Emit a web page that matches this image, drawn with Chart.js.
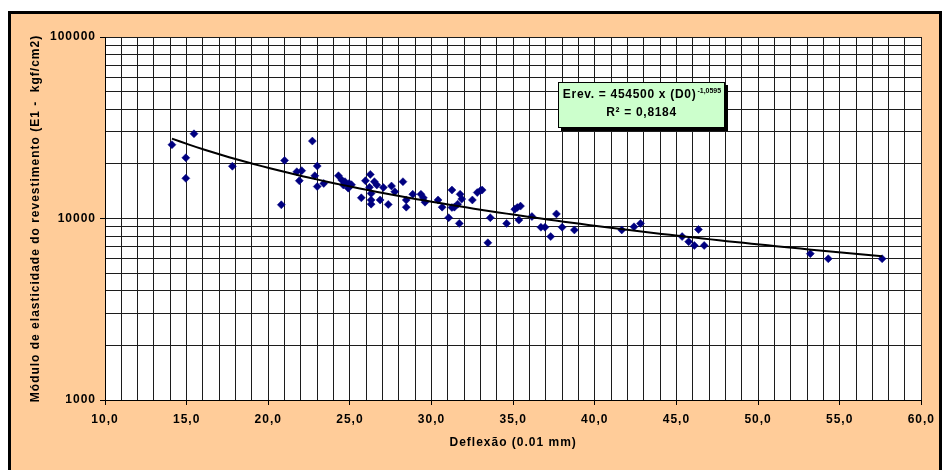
<!DOCTYPE html>
<html>
<head>
<meta charset="utf-8">
<title>Módulo de elasticidade x Deflexão</title>
<script src="https://cdn.jsdelivr.net/npm/chart.js@4.4.1/dist/chart.umd.min.js"></script>
<style>
  html, body { margin: 0; padding: 0; background: #ffffff; overflow: hidden; }
  canvas { display: block; }
</style>
</head>
<body>
<canvas id="chart" width="942" height="470" style="width:942px;height:470px"></canvas>
<script>
// Deflexão medida (0.01 mm) e módulo retroanalisado do revestimento (kgf/cm2)
const deflexao = [
  14.1, 15.45, 14.95, 14.95, 17.8, 21.0, 20.8, 22.7, 21.75, 22.05,
  21.9, 23.0, 22.85, 23.0, 23.4, 24.3, 24.5, 24.7, 24.6, 24.95,
  25.1, 24.9, 25.7, 25.95, 26.25, 26.2, 26.3, 26.5, 26.65, 26.3,
  26.3, 26.85, 27.05, 27.35, 27.55, 27.75, 28.25, 28.45, 28.45, 28.85,
  29.35, 29.5, 29.6, 30.4, 30.65, 31.05, 31.25, 31.7, 31.75, 31.85,
  31.6, 31.4, 31.25, 32.5, 32.8, 33.0, 33.1, 33.6, 33.45, 34.6,
  35.1, 35.25, 35.45, 35.35, 36.15, 36.7, 36.95, 37.3, 37.65, 38.0,
  38.75, 41.65, 42.4, 42.8, 45.35, 45.75, 46.1, 46.35, 46.7, 53.2,
  54.3, 57.6
];
const modulo = [
  25500, 29300, 21600, 16650, 19400, 20900, 11900, 26700, 18100, 18350,
  16150, 19450, 17200, 15000, 15600, 17200, 16300, 15950, 15300, 15600,
  15350, 14700, 13000, 16150, 17500, 14850, 13750, 15950, 15300, 12650,
  12000, 12650, 14800, 11950, 15100, 14050, 15950, 12650, 11550, 13600,
  13600, 13000, 12300, 12650, 11550, 10100, 14350, 9400, 13600, 12800,
  12000, 11550, 11500, 12650, 13900, 14250, 14350, 10100, 7350, 9400,
  11250, 11500, 11700, 9800, 10250, 8950, 8950, 7950, 10600, 8950,
  8650, 8650, 9000, 9400, 7950, 7450, 7100, 8700, 7100, 6400,
  6000, 6000
];

// Rótulos dos eixos
const xTickValues = [10, 15, 20, 25, 30, 35, 40, 45, 50, 55, 60];
const xTickLabels = ['10,0', '15,0', '20,0', '25,0', '30,0', '35,0', '40,0', '45,0', '50,0', '55,0', '60,0'];
const yTickValues = [1000, 10000, 100000];
const yTickLabels = ['1000', '10000', '100000'];

// Regressão potencial: Erev = a x D0^b
const trendA = 454500;
const trendB = -1.0595;
const trendAText = '454500';
const trendBText = '-1,0595';
const trendR2Text = '0,8184';

const points = deflexao.map((d, i) => ({ x: d, y: modulo[i] }));

// Curva de tendência entre a menor e a maior deflexão
const dMin = Math.min(...deflexao);
const dMax = Math.max(...deflexao);
const trend = [];
for (let d = dMin; d < dMax; d += 0.5) trend.push({ x: d, y: trendA * Math.pow(d, trendB) });
trend.push({ x: dMax, y: trendA * Math.pow(dMax, trendB) });

const FONT = "Arial, 'Liberation Sans', sans-serif";

// Fundo da página, moldura e área de plotagem
const framePlugin = {
  id: 'frame',
  beforeUpdate(chart) { chart.ctx.letterSpacing = '1px'; },
  beforeLayout(chart) { chart.ctx.letterSpacing = '1px'; },
  beforeDraw(chart) {
    const ctx = chart.ctx;
    const { width, height, chartArea } = chart;
    ctx.save();
    ctx.fillStyle = '#ffffff';
    ctx.fillRect(0, 0, width, height);
    ctx.fillStyle = '#000000';
    ctx.fillRect(8, 11, width - 8, height - 11);
    ctx.fillStyle = '#FFCC99';
    ctx.fillRect(11, 14, width - 14, height - 14);
    ctx.fillStyle = '#ffffff';
    ctx.fillRect(chartArea.left, chartArea.top, chartArea.right - chartArea.left, chartArea.bottom - chartArea.top);
    ctx.restore();
    ctx.letterSpacing = '1px';
  }
};

// Caixa com a equação da regressão
const equationPlugin = {
  id: 'equation',
  afterDraw(chart) {
    const ctx = chart.ctx;
    const bx = 558, by = 82, bw = 167, bh = 46;
    ctx.save();
    ctx.fillStyle = '#000000';
    ctx.fillRect(bx + 3, by + 3, bw, bh);
    ctx.fillStyle = '#CCFFCC';
    ctx.fillRect(bx, by, bw, bh);
    ctx.strokeStyle = '#000000';
    ctx.lineWidth = 1;
    ctx.strokeRect(bx + 0.5, by + 0.5, bw - 1, bh - 1);

    ctx.fillStyle = '#000000';
    ctx.textBaseline = 'alphabetic';
    ctx.textAlign = 'left';
    const main = 'Erev. = ' + trendAText + ' x (D0)';
    ctx.letterSpacing = '0.7px';
    ctx.font = 'bold 12px ' + FONT;
    const wMain = ctx.measureText(main).width;
    ctx.letterSpacing = '0px';
    ctx.font = 'bold 7px ' + FONT;
    const wSup = ctx.measureText(trendBText).width;
    const cx = bx + bw / 2;
    const x0 = cx - (wMain + wSup) / 2;
    ctx.letterSpacing = '0.7px';
    ctx.font = 'bold 12px ' + FONT;
    ctx.fillText(main, x0, 98);
    ctx.letterSpacing = '0px';
    ctx.font = 'bold 7px ' + FONT;
    ctx.fillText(trendBText, x0 + wMain + 1, 93);

    ctx.letterSpacing = '0.7px';
    ctx.font = 'bold 12px ' + FONT;
    ctx.textAlign = 'center';
    ctx.fillText('R² = ' + trendR2Text, cx, 116);
    ctx.restore();
  }
};

new Chart(document.getElementById('chart'), {
  type: 'scatter',
  data: {
    datasets: [
      {
        label: 'Erev',
        data: points,
        pointStyle: 'rectRot',
        pointRadius: 4,
        pointBorderWidth: 0.5,
        backgroundColor: '#000080',
        borderColor: '#000080',
        order: 1
      },
      {
        label: 'Potência',
        type: 'line',
        data: trend,
        showLine: true,
        pointRadius: 0,
        borderColor: '#000000',
        borderWidth: 2,
        fill: false,
        tension: 0,
        order: 0
      }
    ]
  },
  options: {
    responsive: false,
    animation: false,
    devicePixelRatio: 1,
    layout: { padding: { left: 0, right: 20, top: 37, bottom: 0 } },
    plugins: {
      legend: { display: false },
      tooltip: { enabled: false }
    },
    scales: {
      x: {
        type: 'linear',
        min: 10,
        max: 60,
        afterFit: (s) => { s.height = 70; },
        ticks: {
          stepSize: 1,
          autoSkip: false,
          maxRotation: 0,
          padding: 7,
          color: '#000000',
          font: { family: FONT, size: 12, weight: 'bold' },
          callback: (v) => {
            const i = xTickValues.indexOf(v);
            return i >= 0 ? xTickLabels[i] : '';
          }
        },
        grid: {
          color: '#1c1c1c',
          lineWidth: 1,
          tickLength: 5,
          tickColor: (c) => (c.tick && xTickValues.includes(c.tick.value)) ? '#000000' : 'rgba(0,0,0,0)'
        },
        border: { color: '#000000', width: 1 },
        title: {
          display: true,
          text: 'Deflexão (0.01 mm)',
          color: '#000000',
          font: { family: FONT, size: 12, weight: 'bold' },
          padding: { top: 0, bottom: 20 }
        }
      },
      y: {
        type: 'logarithmic',
        min: 1000,
        max: 100000,
        afterFit: (s) => { s.width = 105; },
        afterBuildTicks: (s) => {
          const t = [];
          for (let d = 1000; d < 100000; d *= 10) {
            for (let m = 1; m < 10; m++) t.push({ value: m * d });
          }
          t.push({ value: 100000 });
          s.ticks = t;
        },
        ticks: {
          autoSkip: false,
          padding: 4,
          color: '#000000',
          font: { family: FONT, size: 12, weight: 'bold' },
          callback: (v) => {
            const i = yTickValues.indexOf(v);
            return i >= 0 ? yTickLabels[i] : '';
          }
        },
        grid: {
          color: '#1c1c1c',
          lineWidth: 1,
          tickLength: 5,
          tickColor: (c) => (c.tick && yTickValues.includes(c.tick.value)) ? '#000000' : 'rgba(0,0,0,0)'
        },
        border: { color: '#000000', width: 1 },
        title: {
          display: true,
          text: 'Módulo de elasticidade do revestimento (E1 -  kgf/cm2)',
          color: '#000000',
          font: { family: FONT, size: 12, weight: 'bold' },
          padding: { top: 28, bottom: 0 }
        }
      }
    }
  },
  plugins: [framePlugin, equationPlugin]
});
</script>
</body>
</html>
